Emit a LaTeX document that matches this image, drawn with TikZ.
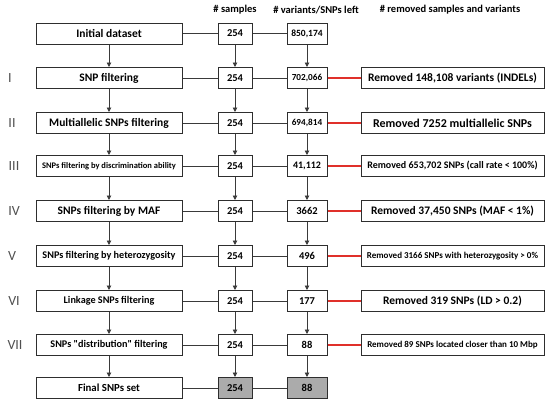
\documentclass[tikz,border=0pt]{standalone}
\usepackage{fontspec}
\setmainfont{Carlito}
\usetikzlibrary{arrows.meta}
\definecolor{linec}{HTML}{3A3A3A}
\definecolor{boxc}{HTML}{2E2E2E}
\definecolor{redc}{HTML}{E0302A}
\definecolor{finalc}{HTML}{ABABAB}
\definecolor{numc}{HTML}{505050}
\tikzset{
  basebox/.style={draw=boxc, line width=1pt, fill=white, minimum height=21pt, inner sep=0pt, anchor=center, font=\bfseries},
  leftbox/.style={basebox, minimum width=146pt},
  sampbox/.style={basebox, minimum width=34pt},
  varbox/.style={basebox, minimum width=40pt},
  rembox/.style={basebox, minimum width=183pt},
  finalbox/.style={fill=finalc},
  conn/.style={draw=linec, line width=0.9pt},
  arr/.style={conn, -{Triangle[length=4.5pt,width=4.5pt]}},
  redconn/.style={draw=redc, line width=1.1pt},
  roman/.style={text=numc, font=\fontsize{14}{14}\selectfont, anchor=center},
  header/.style={font=\fontsize{10.5}{12}\selectfont\bfseries, anchor=center}
}
\begin{document}
\begin{tikzpicture}[x=1pt,y=-1pt]
\useasboundingbox (0,0) rectangle (550,405);
% headers
\node[header] (h1) at (235,10) {\# samples};
\node[header] (h2) at (316,10) {\# variants/SNPs left};
\node[header] (h3) at (450,10) {\# removed samples and variants};
% roman numerals
\node[roman] (r1) at (10,78) {I};
\node[roman] (r2) at (12,123) {II};
\node[roman] (r3) at (14,166) {III};
\node[roman] (r4) at (14,211) {IV};
\node[roman] (r5) at (12,256) {V};
\node[roman] (r6) at (14,301) {VI};
\node[roman] (r7) at (15,345) {VII};
% left column
\node[leftbox, font=\fontsize{11.5}{12}\selectfont\bfseries] (l0) at (109,33.5) {Initial dataset};
\node[leftbox, font=\fontsize{11.5}{12}\selectfont\bfseries] (l1) at (109,78) {SNP filtering};
\node[leftbox, font=\fontsize{11.5}{12}\selectfont\bfseries] (l2) at (109,123) {Multiallelic SNPs filtering};
\node[leftbox, font=\fontsize{8.5}{10}\selectfont\bfseries] (l3) at (109,166) {SNPs filtering by discrimination ability};
\node[leftbox, font=\fontsize{11.5}{12}\selectfont\bfseries] (l4) at (109,211) {SNPs filtering by MAF};
\node[leftbox, font=\fontsize{10.2}{12}\selectfont\bfseries] (l5) at (109,256) {SNPs filtering by heterozygosity};
\node[leftbox, font=\fontsize{10.2}{12}\selectfont\bfseries] (l6) at (109,301) {Linkage SNPs filtering};
\node[leftbox, font=\fontsize{10.2}{12}\selectfont\bfseries] (l7) at (109,345) {SNPs \textquotedbl distribution\textquotedbl{} filtering};
\node[leftbox, font=\fontsize{10.8}{12}\selectfont\bfseries] (l8) at (109,388) {Final SNPs set};
% samples column
\foreach \i/\y in {0/33.5,1/78,2/123,3/166,4/211,5/256,6/301,7/345}{
  \node[sampbox, font=\fontsize{10.5}{12}\selectfont\bfseries] (s\i) at (235,\y) {254};
}
\node[sampbox, finalbox, font=\fontsize{10.5}{12}\selectfont\bfseries] (s8) at (235,388) {254};
% variants column
\node[varbox, font=\fontsize{9.5}{10}\selectfont\bfseries] (v0) at (307,33.5) {850,174};
\node[varbox, font=\fontsize{9.2}{10}\selectfont\bfseries] (v1) at (307,78) {702,066};
\node[varbox, font=\fontsize{9.2}{10}\selectfont\bfseries] (v2) at (307,123) {694,814};
\node[varbox, font=\fontsize{10}{10}\selectfont\bfseries] (v3) at (307,166) {41,112};
\node[varbox, font=\fontsize{10.5}{12}\selectfont\bfseries] (v4) at (307,211) {3662};
\node[varbox, font=\fontsize{10.5}{12}\selectfont\bfseries] (v5) at (307,256) {496};
\node[varbox, font=\fontsize{10.5}{12}\selectfont\bfseries] (v6) at (307,301) {177};
\node[varbox, font=\fontsize{10.5}{12}\selectfont\bfseries] (v7) at (307,345) {88};
\node[varbox, finalbox, font=\fontsize{10.5}{12}\selectfont\bfseries] (v8) at (307,388) {88};
% removed column
\node[rembox, font=\fontsize{11.5}{12}\selectfont\bfseries] (m1) at (452.5,78) {Removed 148,108 variants (INDELs)};
\node[rembox, font=\fontsize{12}{12}\selectfont\bfseries] (m2) at (452.5,123) {Removed 7252 multiallelic SNPs};
\node[rembox, font=\fontsize{10}{12}\selectfont\bfseries] (m3) at (452.5,166) {Removed 653,702 SNPs (call rate < 100\%)};
\node[rembox, font=\fontsize{11.5}{12}\selectfont\bfseries] (m4) at (452.5,211) {Removed 37,450 SNPs (MAF < 1\%)};
\node[rembox, font=\fontsize{9}{10}\selectfont\bfseries] (m5) at (452.5,256) {Removed 3166 SNPs with heterozygosity > 0\%};
\node[rembox, font=\fontsize{11.5}{12}\selectfont\bfseries] (m6) at (452.5,301) {Removed 319 SNPs (LD > 0.2)};
\node[rembox, font=\fontsize{9}{10}\selectfont\bfseries] (m7) at (452.5,345) {Removed 89 SNPs located closer than 10 Mbp};
% horizontal connectors
\foreach \i in {0,...,8}{
  \draw[conn] (l\i.east) -- (s\i.west);
  \draw[conn] (s\i.east) -- (v\i.west);
}
\foreach \i in {1,...,7}{
  \draw[redconn] (v\i.east) -- (m\i.west);
}
% vertical arrows
\foreach \i/\j in {0/1,1/2,2/3,3/4,4/5,5/6,6/7,7/8}{
  \draw[arr] (l\i.south) -- (l\j.north);
  \draw[arr] (s\i.south) -- (s\j.north);
  \draw[arr] (v\i.south) -- (v\j.north);
}
\end{tikzpicture}
\end{document}
